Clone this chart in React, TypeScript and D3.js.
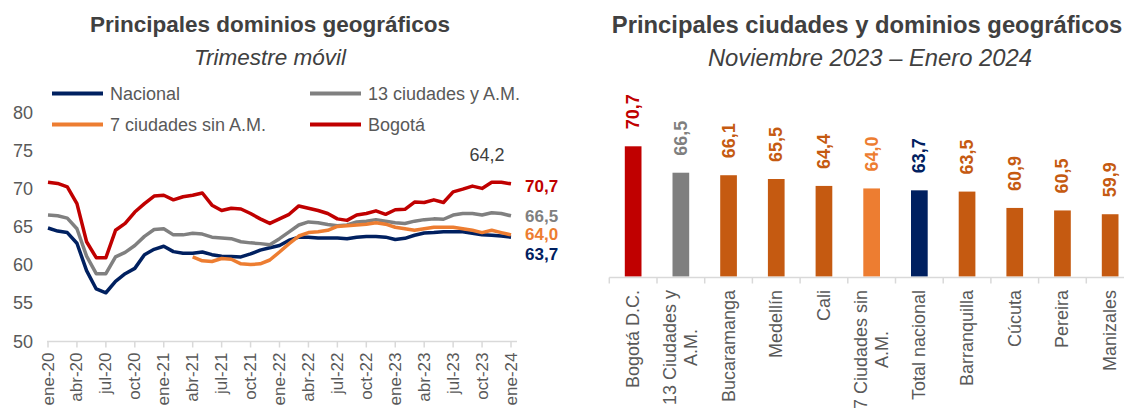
import React from "react";
import * as d3 from "d3";

// trimestre móvil ene-20 ... ene-24 (49 months)
const tickLabels = [
  "ene-20", "abr-20", "jul-20", "oct-20", "ene-21", "abr-21", "jul-21", "oct-21",
  "ene-22", "abr-22", "jul-22", "oct-22", "ene-23", "abr-23", "jul-23", "oct-23", "ene-24",
];

const nacional = [
  64.9, 64.5, 64.3, 62.9, 59.3, 56.9, 56.4, 57.9, 58.9, 59.6, 61.4, 62.1, 62.5, 61.8, 61.6, 61.6,
  61.75, 61.4, 61.2, 61.15, 61.1, 61.5, 62.0, 62.3, 62.6, 63.3, 63.7, 63.7, 63.6, 63.6, 63.6, 63.5,
  63.7, 63.8, 63.8, 63.7, 63.4, 63.55, 63.95, 64.25, 64.3, 64.4, 64.4, 64.4, 64.2, 64.0, 63.95, 63.85, 63.7,
];

const trece = [
  66.6, 66.5, 66.2, 64.8, 61.2, 58.9, 58.9, 61.1, 61.7, 62.6, 63.8, 64.7, 64.8, 64.0, 64.0, 64.2,
  64.1, 63.7, 63.6, 63.5, 63.1, 62.95, 62.85, 62.7, 63.5, 64.4, 65.3, 65.7, 65.6, 65.35, 65.2, 65.3,
  65.7, 65.8, 66.0, 65.8, 65.6, 65.5, 65.8, 66.0, 66.1, 66.05, 66.6, 66.8, 66.8, 66.6, 66.9, 66.8, 66.5,
];

const siete = [
  null, null, null, null, null, null, null, null, null, null, null, null, null, null, null, 61.1,
  60.6, 60.5, 60.9, 60.8, 60.2, 60.1, 60.2, 60.7, 61.75, 62.85, 63.85, 64.3, 64.4, 64.6, 65.1, 65.2,
  65.3, 65.4, 65.6, 65.4, 65.0, 64.8, 64.6, 64.8, 65.0, 65.0, 65.0, 64.8, 64.6, 64.3, 64.6, 64.3, 64.0,
];

const bogota = [
  70.9, 70.75, 70.3, 68.1, 63.1, 61.0, 61.0, 64.6, 65.5, 67.0, 68.1, 69.1, 69.2, 68.6, 69.0, 69.2,
  69.5, 67.9, 67.2, 67.5, 67.4, 66.8, 66.1, 65.5, 66.1, 66.7, 67.8, 67.5, 67.2, 66.8, 66.1, 65.9,
  66.6, 66.8, 67.15, 66.7, 67.3, 67.35, 68.3, 68.25, 68.6, 68.25, 69.65, 70.0, 70.4, 70.1, 70.9, 70.9, 70.7,
];

const yTicks = [50, 55, 60, 65, 70, 75, 80];

const ciudades = [
  "Bogotá D.C.", "13 Ciudades y\nA.M.", "Bucaramanga", "Medellín", "Cali", "7 Ciudades sin\nA.M.",
  "Total nacional", "Barranquilla", "Cúcuta", "Pereira", "Manizales",
];
const valores = [70.7, 66.5, 66.1, 65.5, 64.4, 64.0, 63.7, 63.5, 60.9, 60.5, 59.9];
const coloresBarras = [
  "#C00000", "#7F7F7F", "#C55A11", "#C55A11", "#C55A11", "#ED7D31",
  "#002060", "#C55A11", "#C55A11", "#C55A11", "#C55A11",
];

const FONT = "'Liberation Sans', Arial, sans-serif";
const TXT = "#595959";
const fmt = (v: number) => v.toFixed(1).replace(".", ",");

const series = [
  { name: "Nacional", data: nacional, color: "#002060" },
  { name: "13 ciudades y A.M.", data: trece, color: "#808080" },
  { name: "7 ciudades sin A.M.", data: siete, color: "#ED7D31" },
  { name: "Bogotá", data: bogota, color: "#C00000" },
];

const legendPos = [
  { x: 52, y: 93.5 },
  { x: 310, y: 93.5 },
  { x: 52, y: 124.5 },
  { x: 310, y: 124.5 },
];

const endLabels = [
  { i: 3, y: 186 },
  { i: 1, y: 216.5 },
  { i: 2, y: 234.5 },
  { i: 0, y: 254 },
];

let ctx: CanvasRenderingContext2D | null = null;
const measure = (s: string, font: string) => {
  if (!ctx) ctx = document.createElement("canvas").getContext("2d");
  if (!ctx) return s.length * 9;
  ctx.font = font;
  return ctx.measureText(s).width;
};

const LineChart = () => {
  const x = d3.scaleLinear().domain([0, nacional.length - 1]).range([48, 511]);
  const y = d3.scaleLinear().domain([50, 80]).range([341.5, 113]);
  const line = d3
    .line<number | null>()
    .defined((d) => d != null)
    .x((_, i) => x(i))
    .y((d) => y(d as number));
  const axisY = y(50);

  return (
    <g fontFamily={FONT}>
      <text x={270} y={32} textAnchor="middle" fontSize={22.5} fontWeight="bold" fill="#404040">
        Principales dominios geográficos
      </text>
      <text x={270} y={65} textAnchor="middle" fontSize={22.5} fontStyle="italic" fill="#404040">
        Trimestre móvil
      </text>

      {series.map((s, i) => (
        <g key={s.name}>
          <line
            x1={legendPos[i].x}
            x2={legendPos[i].x + 51}
            y1={legendPos[i].y}
            y2={legendPos[i].y}
            stroke={s.color}
            strokeWidth={4}
          />
          <text x={legendPos[i].x + 58} y={legendPos[i].y} dominantBaseline="central" fontSize={18} fill={TXT}>
            {s.name}
          </text>
        </g>
      ))}

      {yTicks.map((t) => (
        <text key={t} x={33} y={y(t)} textAnchor="end" dominantBaseline="central" fontSize={18} fill={TXT}>
          {t}
        </text>
      ))}

      <line x1={47} x2={517} y1={axisY} y2={axisY} stroke="#D9D9D9" strokeWidth={1.5} />
      {tickLabels.map((lab, k) => (
        <g key={lab}>
          <line x1={x(k * 3)} x2={x(k * 3)} y1={axisY} y2={axisY + 6} stroke="#D9D9D9" strokeWidth={1.5} />
          <text
            transform={`translate(${x(k * 3)},${axisY + 11}) rotate(-90)`}
            textAnchor="end"
            dominantBaseline="central"
            fontSize={17}
            fill={TXT}
          >
            {lab}
          </text>
        </g>
      ))}

      {series.map((s) => (
        <path
          key={s.name}
          d={line(s.data) || ""}
          fill="none"
          stroke={s.color}
          strokeWidth={3.5}
          strokeLinejoin="round"
        />
      ))}

      <text x={487} y={155} textAnchor="middle" dominantBaseline="central" fontSize={18} fill="#404040">
        64,2
      </text>
      {endLabels.map((e) => {
        const s = series[e.i];
        return (
          <text
            key={s.name}
            x={525}
            y={e.y}
            dominantBaseline="central"
            fontSize={17}
            fontWeight="bold"
            fill={s.color === "#808080" ? "#7F7F7F" : s.color}
          >
            {fmt(s.data[s.data.length - 1] as number)}
          </text>
        );
      })}
    </g>
  );
};

const BarChart = () => {
  const x = d3
    .scaleBand<string>()
    .domain(ciudades)
    .range([609.3, 1134])
    .paddingInner(0.65)
    .paddingOuter(0.325);
  const y = d3.scaleLinear().domain([50, 80]).range([276.5, 87.8]);
  const step = x.step();
  const axisY = 277.5;
  const labFont = `18px ${FONT}`;

  return (
    <g fontFamily={FONT}>
      <text x={867} y={33} textAnchor="middle" fontSize={23.8} fontWeight="bold" fill="#404040">
        Principales ciudades y dominios geográficos
      </text>
      <text x={870} y={66} textAnchor="middle" fontSize={23.8} fontStyle="italic" fill="#404040">
        Noviembre 2023 – Enero 2024
      </text>

      {ciudades.map((c, i) => {
        const bx = x(c) as number;
        const cx = bx + x.bandwidth() / 2;
        return (
          <g key={c}>
            <rect x={bx} y={y(valores[i])} width={x.bandwidth()} height={y(50) - y(valores[i])} fill={coloresBarras[i]} />
            <text
              transform={`translate(${cx},${y(valores[i]) - 17}) rotate(-90)`}
              dominantBaseline="central"
              fontSize={18}
              fontWeight="bold"
              fill={coloresBarras[i]}
            >
              {fmt(valores[i])}
            </text>
          </g>
        );
      })}

      <line x1={609.3} x2={1134} y1={axisY} y2={axisY} stroke="#D9D9D9" strokeWidth={1.5} />
      {d3.range(ciudades.length + 1).map((k) => (
        <line
          key={k}
          x1={609.3 + k * step}
          x2={609.3 + k * step}
          y1={axisY}
          y2={axisY + 6}
          stroke="#D9D9D9"
          strokeWidth={1.5}
        />
      ))}

      {ciudades.map((c) => {
        const cx = (x(c) as number) + x.bandwidth() / 2;
        const lines = c.split("\n");
        const w0 = measure(lines[0], labFont);
        const lh = 21;
        return (
          <text
            key={c}
            transform={`translate(${cx},${290}) rotate(-90)`}
            dominantBaseline="central"
            fontSize={18}
            fill={TXT}
          >
            {lines.map((l, j) => (
              <tspan
                key={j}
                x={-w0 / 2}
                y={(j - (lines.length - 1) / 2) * lh}
                textAnchor="middle"
              >
                {l}
              </tspan>
            ))}
          </text>
        );
      })}
    </g>
  );
};

export default function App() {
  return (
    <div style={{ position: "absolute", left: 0, top: 0 }}>
      <svg width={1124} height={409} style={{ display: "block", background: "#fff" }}>
        <LineChart />
        <BarChart />
      </svg>
    </div>
  );
}
